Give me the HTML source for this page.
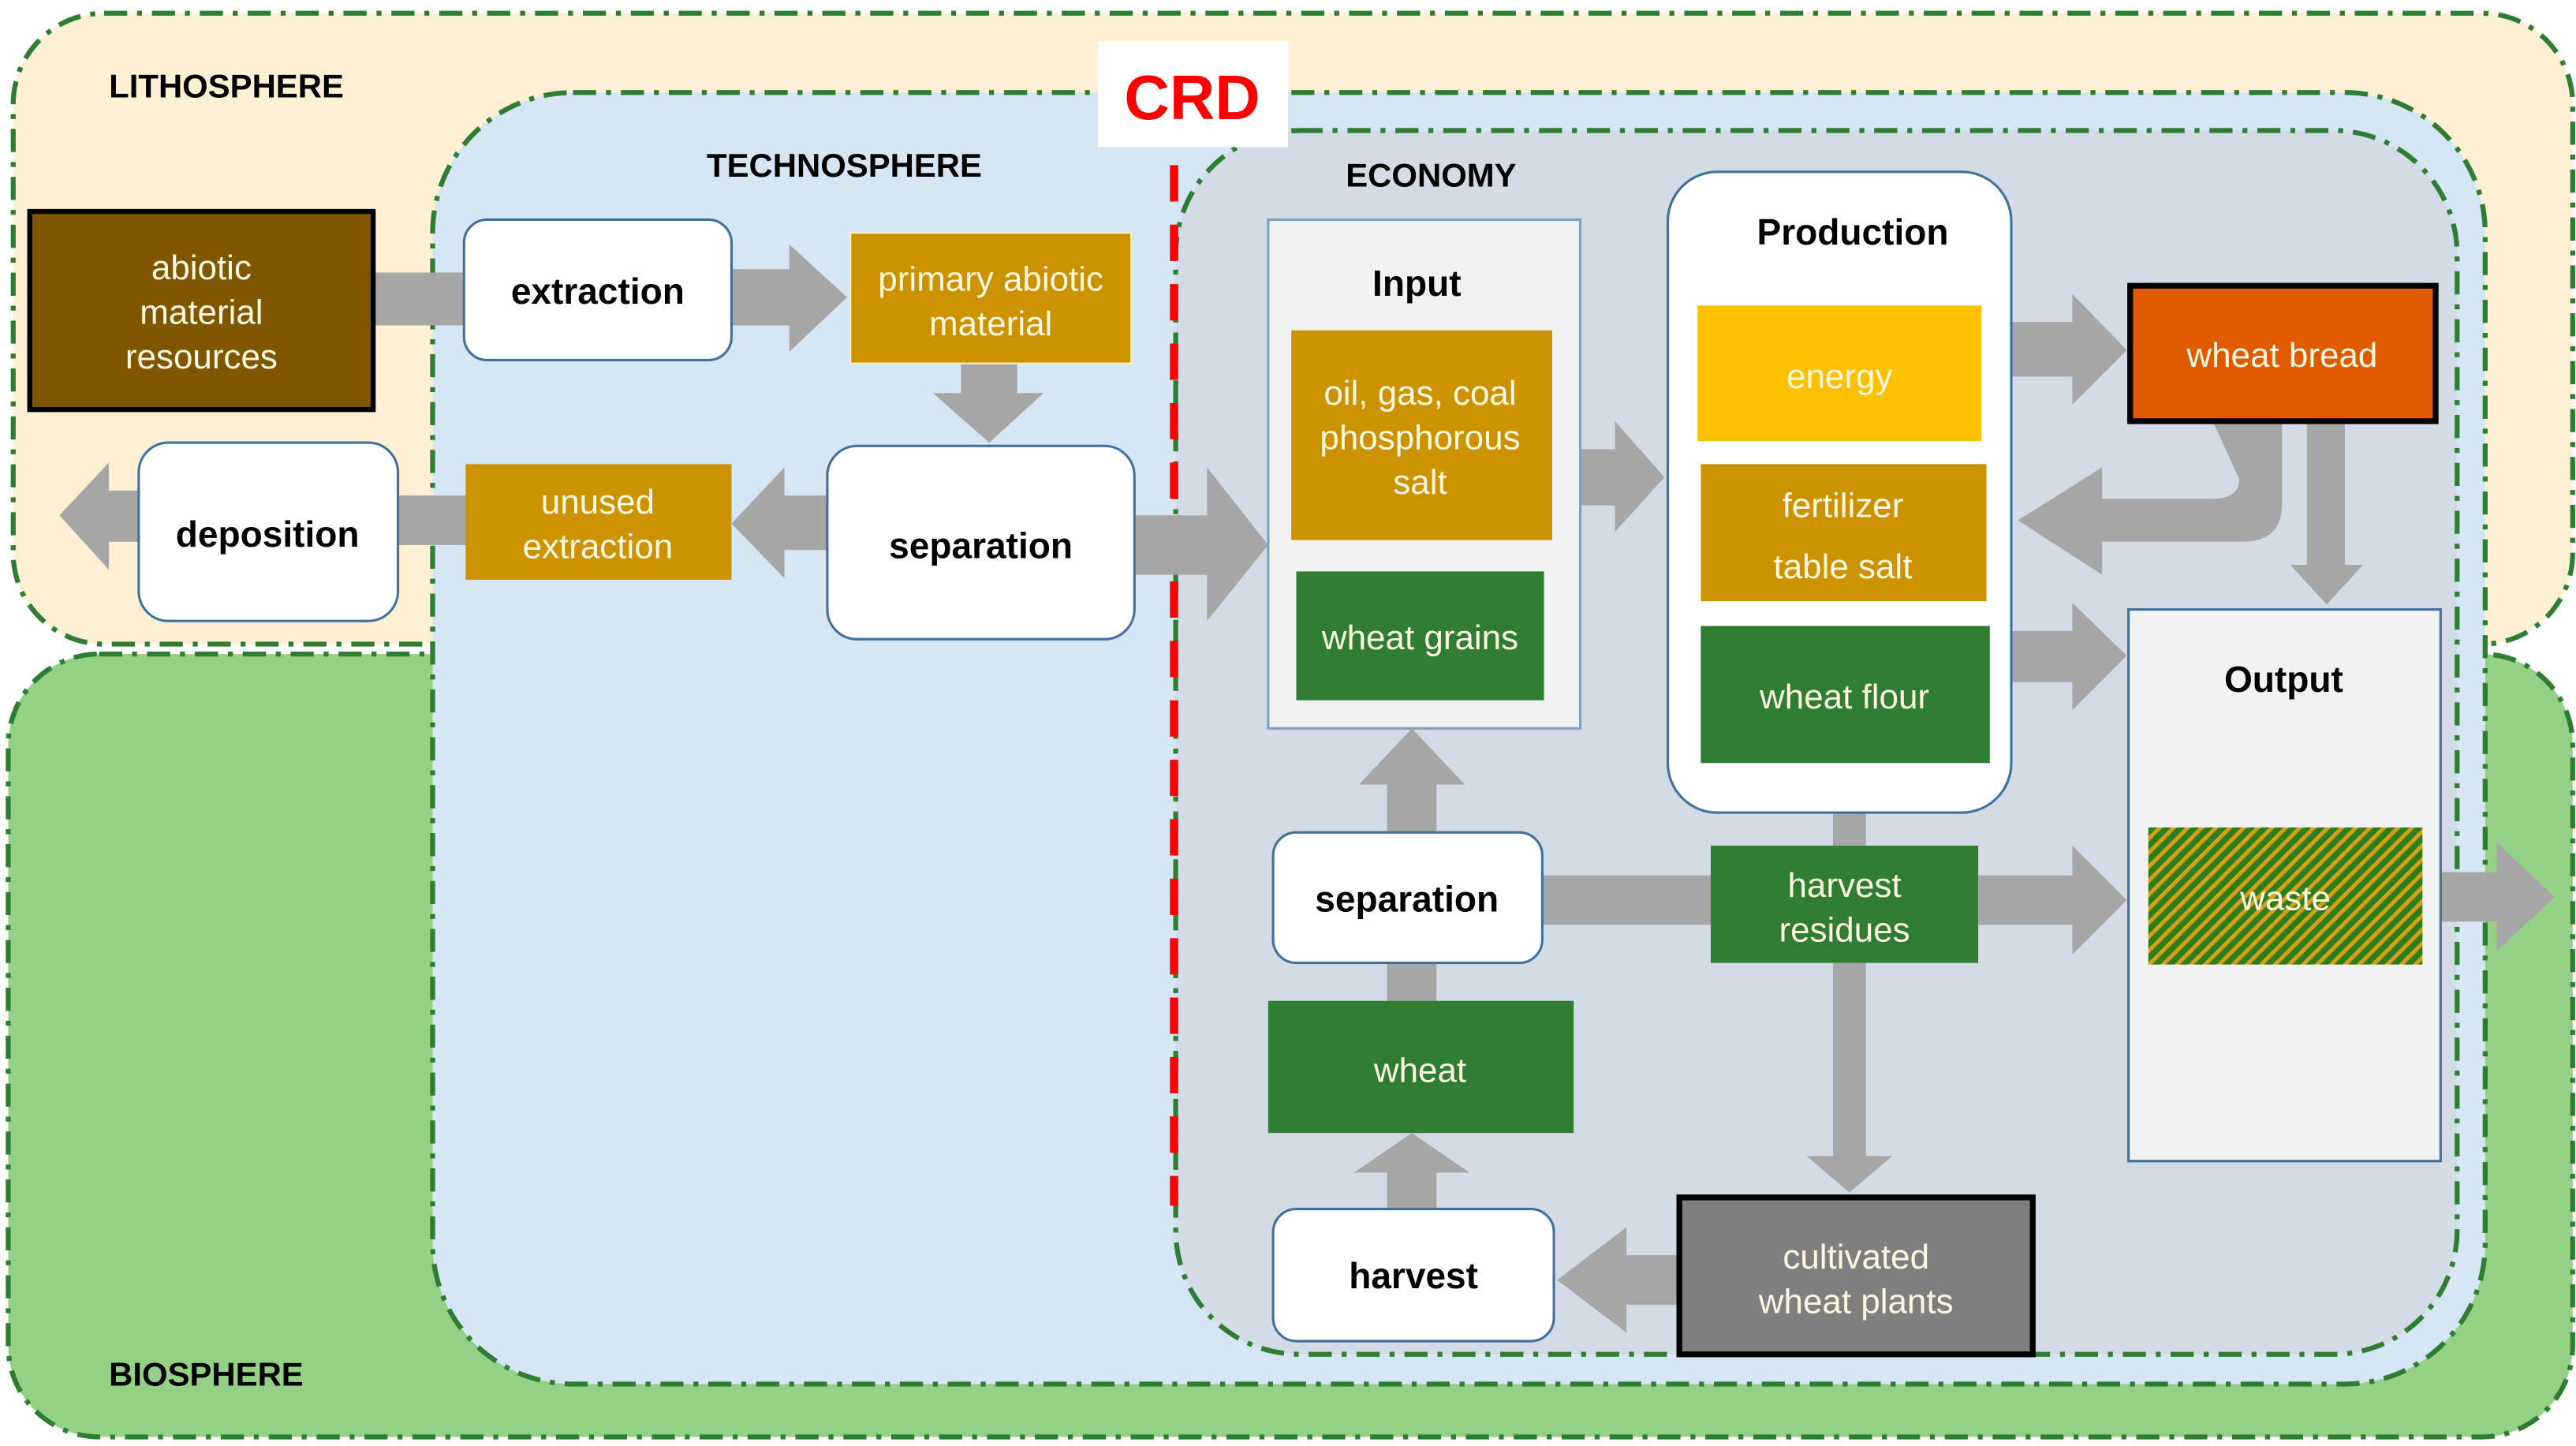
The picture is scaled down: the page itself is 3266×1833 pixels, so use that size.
<!DOCTYPE html>
<html><head><meta charset="utf-8"><style>
html,body{margin:0;padding:0;background:#fff;}
svg{display:block;}
text{font-family:"Liberation Sans",sans-serif;}
.w{fill:#fff8e0;font-size:21px;text-anchor:middle;}
.b{fill:#000;font-size:22px;font-weight:bold;text-anchor:middle;}
.h{fill:#000;font-size:20px;font-weight:bold;}
</style></head><body>
<svg width="3266" height="1833" viewBox="0 0 1560 875.5" xmlns="http://www.w3.org/2000/svg">
<defs>
<pattern id="hatch" width="6" height="6" patternUnits="userSpaceOnUse" patternTransform="rotate(45)">
<rect width="6" height="6" fill="#2e7d1a"/><rect width="2.4" height="6" fill="#d4a017"/>
</pattern>
</defs>
<rect x="8" y="8" width="1550" height="382" rx="55" fill="#fdf0d3" stroke="#2e7d32" stroke-width="3" stroke-dasharray="14,6,3,6"/>
<rect x="5" y="396" width="1553" height="474" rx="55" fill="#94d186" stroke="#2e7d32" stroke-width="3" stroke-dasharray="14,6,3,6"/>
<rect x="262" y="56" width="1243" height="782" rx="85" fill="#d7e6f4" stroke="#2e7d32" stroke-width="3" stroke-dasharray="14,6,3,6"/>
<rect x="712" y="79" width="776" height="741" rx="75" fill="#d3dce6" stroke="#2e7d32" stroke-width="3" stroke-dasharray="14,6,3,6"/>
<rect x="665" y="25" width="115" height="64" fill="#fff"/>
<text x="722" y="72" font-size="38" font-weight="bold" fill="#ff0000" text-anchor="middle">CRD</text>
<line x1="711" y1="100" x2="711" y2="730" stroke="#ff0000" stroke-width="5" stroke-dasharray="22,14"/>
<text class="h" x="66" y="59">LITHOSPHERE</text>
<text class="h" x="428" y="107">TECHNOSPHERE</text>
<text class="h" x="815" y="113">ECONOMY</text>
<text class="h" x="66" y="839">BIOSPHERE</text>

<g fill="#a6a6a6">
<rect x="226" y="165" width="56" height="32"/>
<polygon points="443,163 478,163 478,148 513,180 478,213 478,197 443,197"/>
<polygon points="582,220 616,220 616,238 632,238 599,268 565,238 582,238"/>
<polygon points="501,300 475,300 475,283 443,317 475,350 475,333 501,333"/>
<rect x="241" y="300" width="42" height="30"/>
<polygon points="84,297 66,297 66,280 36,312 66,345 66,328 84,328"/>
<polygon points="687,312 731,312 731,283 768,330 731,376 731,348 687,348"/>
<polygon points="957,272 978,272 978,255 1008,289 978,322 978,306 957,306"/>
<polygon points="1218,195 1255,195 1255,178 1288,212 1255,245 1255,228 1218,228"/>
<polygon points="1218,382 1255,382 1255,365 1288,397 1255,430 1255,413 1218,413"/>
<polygon points="1478,528 1512,528 1512,510 1547,543 1512,576 1512,558 1478,558"/>
<polygon points="1397,255 1420,255 1420,342 1431,342 1409,366 1387,342 1397,342"/>
<path d="M1340,255 L1382,255 L1382,305 Q1382,328 1358,328 L1273,328 L1273,348 L1222,315 L1273,283 L1273,302 L1340,302 Q1356,302 1356,290 Z" />
<polygon points="840,504 870,504 870,475 887,475 855,441 823,475 840,475"/>
<rect x="934" y="530" width="102" height="30"/>
<polygon points="1198,530 1255,530 1255,512 1288,545 1255,578 1255,560 1198,560"/>
<rect x="1110" y="492" width="20" height="20"/>
<polygon points="1110,583 1130,583 1130,700 1146,700 1120,722 1094,700 1110,700"/>
<rect x="840" y="583" width="30" height="23"/>
<polygon points="840,732 870,732 870,710 890,710 855,686 820,710 840,710"/>
<polygon points="1017,760 985,760 985,743 943,775 985,807 985,790 1017,790"/>
</g>

<rect x="18" y="128" width="208" height="120" fill="#7f5700" stroke="#000" stroke-width="3"/>
<text class="w" x="122" y="169">abiotic</text>
<text class="w" x="122" y="196">material</text>
<text class="w" x="122" y="223">resources</text>

<rect x="281" y="133" width="162" height="85" rx="14" fill="#fff" stroke="#41719c" stroke-width="1.5"/>
<text class="b" x="362" y="184">extraction</text>

<rect x="515" y="141" width="170" height="79" fill="#cc9200" stroke="#fff4c0" stroke-width="1"/>
<text class="w" x="600" y="176">primary abiotic</text>
<text class="w" x="600" y="203">material</text>

<rect x="501" y="270" width="186" height="117" rx="18" fill="#fff" stroke="#41719c" stroke-width="1.5"/>
<text class="b" x="594" y="338">separation</text>

<rect x="282" y="281" width="161" height="70" fill="#cc9200"/>
<text class="w" x="362" y="311">unused</text>
<text class="w" x="362" y="338">extraction</text>

<rect x="84" y="268" width="157" height="108" rx="18" fill="#fff" stroke="#41719c" stroke-width="1.5"/>
<text class="b" x="162" y="331">deposition</text>

<rect x="768" y="133" width="189" height="308" fill="#f2f2f2" stroke="#7f9fbf" stroke-width="1.5"/>
<text class="b" x="858" y="179" font-size="24">Input</text>
<rect x="782" y="200" width="158" height="127" fill="#cc9200"/>
<text class="w" x="860" y="245">oil, gas, coal</text>
<text class="w" x="860" y="272">phosphorous</text>
<text class="w" x="860" y="299">salt</text>
<rect x="785" y="346" width="150" height="78" fill="#2e7d32"/>
<text class="w" x="860" y="393">wheat grains</text>

<rect x="1010" y="104" width="208" height="388" rx="30" fill="#fff" stroke="#41719c" stroke-width="1.5"/>
<text class="b" x="1122" y="148" font-size="24">Production</text>
<rect x="1028" y="185" width="172" height="82" fill="#ffc000"/>
<text class="w" x="1114" y="235">energy</text>
<rect x="1030" y="281" width="173" height="83" fill="#cc9200"/>
<text class="w" x="1116" y="313">fertilizer</text>
<text class="w" x="1116" y="350">table salt</text>
<rect x="1030" y="379" width="175" height="83" fill="#2e7d32"/>
<text class="w" x="1117" y="429">wheat flour</text>

<rect x="1290" y="173" width="185" height="82" fill="#e05a00" stroke="#000" stroke-width="3.5"/>
<text class="w" x="1382" y="222">wheat bread</text>

<rect x="1289" y="369" width="189" height="334" fill="#f2f2f2" stroke="#41719c" stroke-width="1.5"/>
<text class="b" x="1383" y="419" font-size="24">Output</text>
<rect x="1301" y="501" width="166" height="83" fill="url(#hatch)"/>
<text class="w" x="1384" y="551">waste</text>

<rect x="771" y="504" width="163" height="79" rx="14" fill="#fff" stroke="#41719c" stroke-width="1.5"/>
<text class="b" x="852" y="552">separation</text>

<rect x="1036" y="512" width="162" height="71" fill="#2e7d32"/>
<text class="w" x="1117" y="543">harvest</text>
<text class="w" x="1117" y="570">residues</text>

<rect x="768" y="606" width="185" height="80" fill="#2e7d32"/>
<text class="w" x="860" y="655">wheat</text>

<rect x="771" y="732" width="170" height="80" rx="14" fill="#fff" stroke="#41719c" stroke-width="1.5"/>
<text class="b" x="856" y="780">harvest</text>

<rect x="1017" y="725" width="214" height="95" fill="#7f7f7f" stroke="#000" stroke-width="3.5"/>
<text class="w" x="1124" y="768">cultivated</text>
<text class="w" x="1124" y="795">wheat plants</text>
</svg>
</body></html>
